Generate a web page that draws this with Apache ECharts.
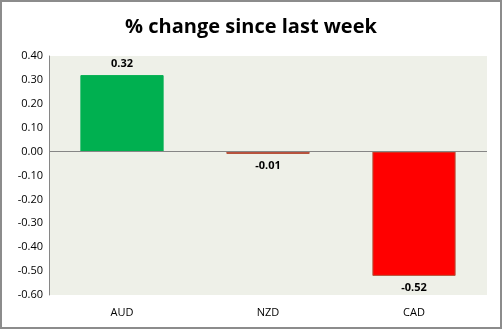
<!DOCTYPE html>
<html><head><meta charset="utf-8">
<script src="https://cdn.jsdelivr.net/npm/echarts@6/dist/echarts.min.js"></script>
<style>html,body{margin:0;padding:0;background:#fff}#c{width:502px;height:329px;box-sizing:border-box;border:2px solid #8c8c8c}</style>
</head><body><div id="c"></div>
<script>
const categories = ['AUD', 'NZD', 'CAD'];
const values = [0.32, -0.01, -0.52];
const barColors = ['#00B050', '#C0504D', '#FF0000'];
const yTicks = { min: -0.6, max: 0.4, interval: 0.1 };

const chart = echarts.init(document.getElementById('c'));
const font = '"Open Sans", "Liberation Sans", sans-serif';
chart.setOption({
  animation: false,
  title: { text: '% change since last week', left: 'center', top: 10,
    textStyle: { fontFamily: font, fontSize: 20, fontWeight: 'bold', color: '#000' } },
  grid: { left: 47, right: 13, top: 54, bottom: 32, backgroundColor: '#EEF0E8', show: true, borderWidth: 0 },
  xAxis: { type: 'category', data: categories, position: 'bottom',
    axisLine: { show: false }, axisTick: { show: false },
    axisLabel: { fontFamily: font, fontSize: 11, color: '#000', margin: 12 } },
  yAxis: { type: 'value', min: yTicks.min, max: yTicks.max, interval: yTicks.interval,
    axisLine: { show: true, lineStyle: { color: '#868686' } }, axisTick: { show: false },
    splitLine: { show: false },
    axisLabel: { fontFamily: font, fontSize: 11, color: '#000', margin: 6, formatter: v => v.toFixed(2) } },
  series: [{
    type: 'bar', barWidth: '57%',
    data: values.map((v, i) => ({ value: v,
      itemStyle: { color: barColors[i], borderColor: i === 0 ? '#00B050' : '#B5533A', borderWidth: 1 },
      label: { position: v >= 0 ? 'top' : 'bottom' } })),
    label: { show: true, fontFamily: font, fontSize: 11, fontWeight: 'bold', color: '#000', distance: 6,
      formatter: p => p.value.toFixed(2) },
    markLine: { silent: true, symbol: 'none', label: { show: false },
      lineStyle: { color: '#868686', type: 'solid', width: 1 }, data: [{ yAxis: 0 }] }
  }]
});
</script></body></html>
